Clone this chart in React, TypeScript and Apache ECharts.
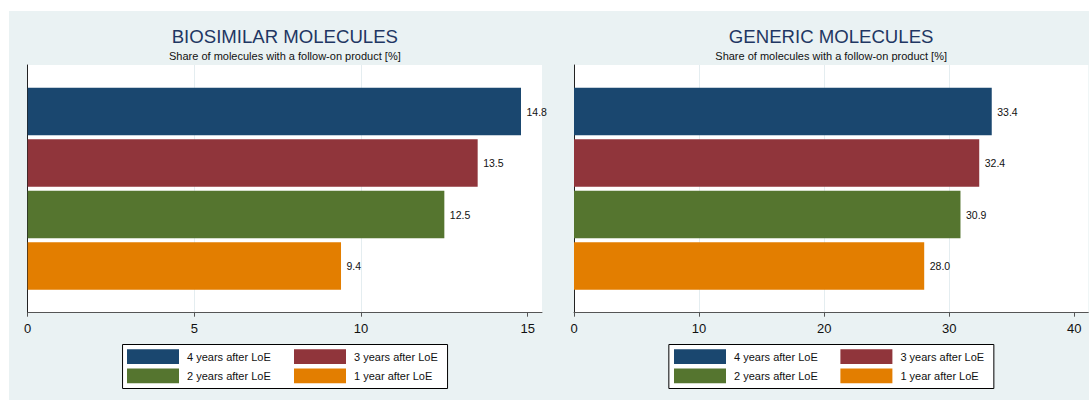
import React, { useEffect, useRef } from "react";
import * as echarts from "echarts";

const seriesNames = ["4 years after LoE", "3 years after LoE", "2 years after LoE", "1 year after LoE"];
const seriesColors = ["#1a476f", "#90353b", "#55752f", "#e37e00"];
const biosimilarValues = [14.8, 13.5, 12.5, 9.4];
const genericValues = [33.4, 32.4, 30.9, 28.0];
const biosimilarTicks = [0, 5, 10, 15];
const genericTicks = [0, 10, 20, 30, 40];
const panelTitles = ["BIOSIMILAR MOLECULES", "GENERIC MOLECULES"];
const subTitle = "Share of molecules with a follow-on product [%]";

const FONT = "'Liberation Sans', Arial, Helvetica, sans-serif";

export default function App() {
  const ref = useRef<HTMLDivElement>(null);
  useEffect(() => {
    if (!ref.current) return;
    const chart = echarts.init(ref.current, undefined, { renderer: "svg" });

    const gridW = 514.3;
    const gridH = 247.7;
    const gridTop = 54;
    const lefts = [18.7, 565];
    const maxes = [15.43, 41.12];
    const intervals = [5, 10];
    const ticks = [biosimilarTicks, genericTicks];
    const values = [biosimilarValues, genericValues];

    const grids = lefts.map((l) => ({
      left: l,
      top: gridTop,
      width: gridW,
      height: gridH,
      show: true,
      backgroundColor: "#ffffff",
      borderWidth: 0,
    }));

    const xAxes = [0, 1].map((i) => ({
      type: "value",
      gridIndex: i,
      min: 0,
      max: maxes[i],
      interval: intervals[i],
      axisLine: { show: true, lineStyle: { color: "#555", width: 1 } },
      axisTick: { show: true, length: 4, lineStyle: { color: "#555" }, customValues: ticks[i] },
      axisLabel: {
        show: true,
        margin: 9,
        fontSize: 13,
        color: "#111",
        fontFamily: FONT,
        customValues: ticks[i],
      },
      splitLine: {
        show: true,
        showMinLine: false,
        showMaxLine: false,
        lineStyle: { color: "#e4edf0", width: 1 },
      },
    }));

    const yAxes = [0, 1].map((i) => ({
      type: "category",
      gridIndex: i,
      data: [""],
      axisLine: { show: true, lineStyle: { color: "#222", width: 1 } },
      axisTick: { show: false },
      axisLabel: { show: false },
      splitLine: { show: false },
    }));

    const series: any[] = [];
    [0, 1].forEach((p) => {
      seriesNames.forEach((name, k) => {
        series.push({
          type: "bar",
          name,
          xAxisIndex: p,
          yAxisIndex: p,
          data: [values[p][k]],
          barWidth: 47.5,
          barGap: "8.4%",
          itemStyle: { color: seriesColors[k] },
          label: {
            show: true,
            position: "right",
            distance: 5.5,
            fontSize: 10.5,
            color: "#111",
            fontFamily: FONT,
            formatter: (prm: any) => Number(prm.value).toFixed(1),
          },
        });
      });
    });

    const legendCols = [
      [118, 285],
      [665, 831.4],
    ];
    const legends: any[] = [];
    legendCols.forEach((cols) => {
      cols.forEach((x, c) => {
        legends.push({
          orient: "vertical",
          left: x,
          top: 338.3,
          padding: 0,
          itemWidth: 52,
          itemHeight: 14.7,
          itemGap: 4.5,
          icon: "rect",
          selectedMode: false,
          data: c === 0 ? [seriesNames[0], seriesNames[2]] : [seriesNames[1], seriesNames[3]],
          textStyle: { fontSize: 11, color: "#111", fontFamily: FONT, padding: [0, 0, 0, 3] },
        });
      });
    });

    const centers = lefts.map((l) => l + gridW / 2);
    const graphics: any[] = [];
    centers.forEach((cx, i) => {
      graphics.push({
        type: "rect",
        z: 0,
        shape: { x: cx - 162.8 + 0.5, y: 333.5, width: 325, height: 44 },
        style: { fill: "#ffffff", stroke: "#000000", lineWidth: 1 },
      });
      graphics.push({
        type: "text",
        x: cx,
        y: 25,
        style: {
          text: panelTitles[i],
          textAlign: "center",
          textVerticalAlign: "middle",
          fontSize: 18.6,
          fontFamily: FONT,
          fill: "#1f3763",
        },
      });
      graphics.push({
        type: "text",
        x: cx,
        y: 45.3,
        style: {
          text: subTitle,
          textAlign: "center",
          textVerticalAlign: "middle",
          fontSize: 11,
          fontFamily: FONT,
          fill: "#111",
        },
      });
    });

    chart.setOption({
      animation: false,
      backgroundColor: "#eaf2f3",
      textStyle: { fontFamily: FONT },
      grid: grids,
      xAxis: xAxes,
      yAxis: yAxes,
      legend: legends,
      graphic: graphics,
      series,
    });

    return () => chart.dispose();
  }, []);

  return (
    <div
      ref={ref}
      style={{ position: "absolute", left: 9, top: 11, width: 1080, height: 389 }}
    />
  );
}
